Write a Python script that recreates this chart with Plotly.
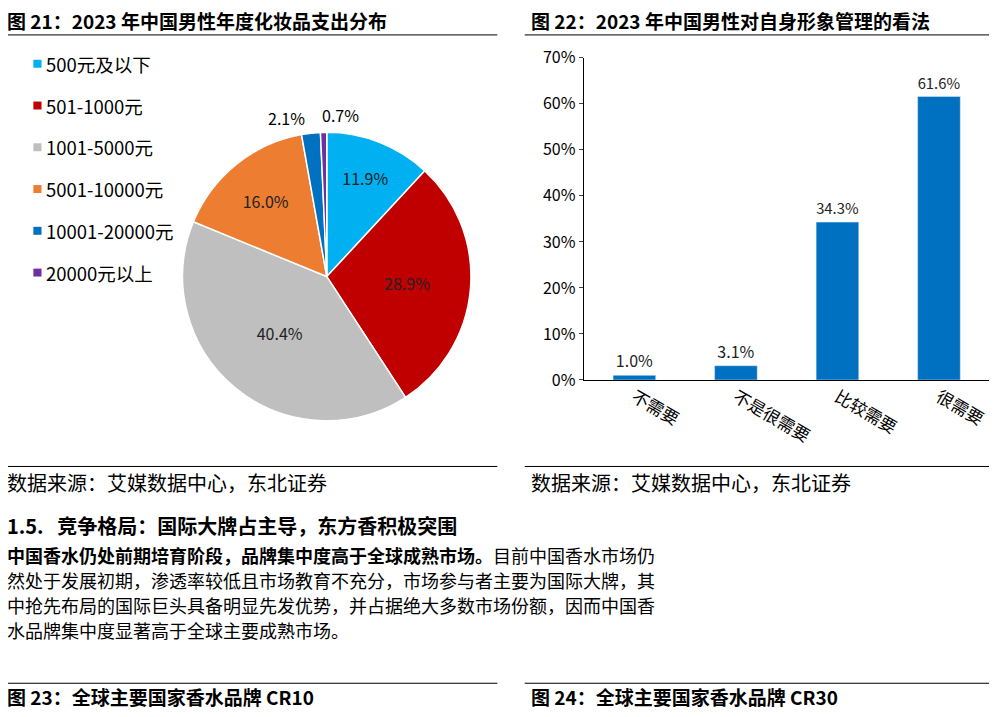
import plotly.graph_objects as go

pie_labels = ["500元及以下", "501-1000元", "1001-5000元", "5001-10000元", "10001-20000元", "20000元以上"]
pie_values = [11.9, 28.9, 40.4, 16.0, 2.1, 0.7]
pie_colors = ["#00B0F0", "#C00000", "#BFBFBF", "#ED7D31", "#0070C0", "#7030A0"]

bar_cats = ["不需要", "不是很需要", "比较需要", "很需要"]
bar_vals = [1.0, 3.1, 34.3, 61.6]

F = "Noto Sans CJK SC"
W, H = 997, 717

# the page photo shows the figure a little offset and shrunk; map reference pixels to paper
def X(r):
    return ((r - 8) / 0.985) / W

def Y(r):
    return 1 - ((r - 18) / 0.972) / H

fig = go.Figure()
fig.add_trace(go.Pie(
    labels=pie_labels, values=pie_values, sort=False, direction="clockwise", rotation=0,
    marker=dict(colors=pie_colors, line=dict(color="white", width=1.5)),
    texttemplate="%{value:.1f}%", textposition=["inside"] * 4 + ["none"] * 2,
    insidetextorientation="horizontal",
    textfont=dict(size=16, color="#222", family=F),
    domain=dict(x=[X(177), X(467)], y=[Y(420), Y(130)]), showlegend=False,
))
fig.add_trace(go.Bar(
    x=bar_cats, y=bar_vals, marker_color="#0070C0", width=0.42,
    text=[f"{v:.1f}%" for v in bar_vals], textposition="outside",
    textfont=dict(size=16, color="#222", family=F), cliponaxis=False, showlegend=False,
))

ann = []
shapes = []
def text(x, y, s, size=14, bold=False, anchor="left"):
    ann.append(dict(x=X(x), y=Y(y), xref="paper", yref="paper", text=f"<b>{s}</b>" if bold else s,
                    showarrow=False, xanchor=anchor, yanchor="middle", borderpad=0,
                    font=dict(size=size, family=F, color="black")))

def hline(x0, x1, y, w=1):
    shapes.append(dict(type="line", xref="paper", yref="paper", x0=X(x0), x1=X(x1),
                       y0=Y(y), y1=Y(y), line=dict(color="black", width=w)))

# small slices labelled outside, as in the reference
text(282, 116, f"{pie_values[4]:.1f}%", 16, anchor="center")
text(336, 113, f"{pie_values[5]:.1f}%", 16, anchor="center")

text(6, 17, "图 21：2023 年中国男性年度化妆品支出分布", 19, True)
text(522, 17, "图 22：2023 年中国男性对自身形象管理的看法", 19, True)
hline(8, 490, 32); hline(517, 990, 32)
hline(8, 490, 466); hline(517, 990, 466)
text(6, 482, "数据来源：艾媒数据中心，东北证券", 20)
text(522, 482, "数据来源：艾媒数据中心，东北证券", 20)

for i, (lab, c) in enumerate(zip(pie_labels, pie_colors)):
    y = 61 + i * 42
    shapes.append(dict(type="rect", xref="paper", yref="paper", x0=X(33), x1=X(41),
                       y0=Y(y + 4), y1=Y(y - 4), fillcolor=c, line_width=0))
    text(44, y, lab, 18.5)

text(6, 525, "1.5.   竞争格局：国际大牌占主导，东方香积极突围", 20, True)
text(6, 555, "<b>中国香水仍处前期培育阶段，品牌集中度高于全球成熟市场。</b>目前中国香水市场仍", 18)
text(6, 580, "然处于发展初期，渗透率较低且市场教育不充分，市场参与者主要为国际大牌，其", 18)
text(6, 605, "中抢先布局的国际巨头具备明显先发优势，并占据绝大多数市场份额，因而中国香", 18)
text(6, 630, "水品牌集中度显著高于全球主要成熟市场。", 18)
hline(8, 490, 684); hline(517, 990, 684)
text(6, 697, "图 23：全球主要国家香水品牌 CR10", 19, True)
text(522, 697, "图 24：全球主要国家香水品牌 CR30", 19, True)

fig.update_layout(
    width=W, height=H, paper_bgcolor="white", plot_bgcolor="white",
    margin=dict(l=0, r=0, t=0, b=0), annotations=ann, shapes=shapes,
    font=dict(family=F, color="black"),
    xaxis=dict(domain=[X(575), X(975)], showline=True, linecolor="black", tickangle=30,
               tickfont=dict(size=17, family=F), ticks=""),
    yaxis=dict(domain=[Y(379), Y(55)], range=[0, 70], dtick=10, ticksuffix="%",
               showline=True, linecolor="black", showgrid=False, ticks="outside",
               ticklen=4, tickfont=dict(size=16, family=F)),
)
fig.write_html("out.html")
